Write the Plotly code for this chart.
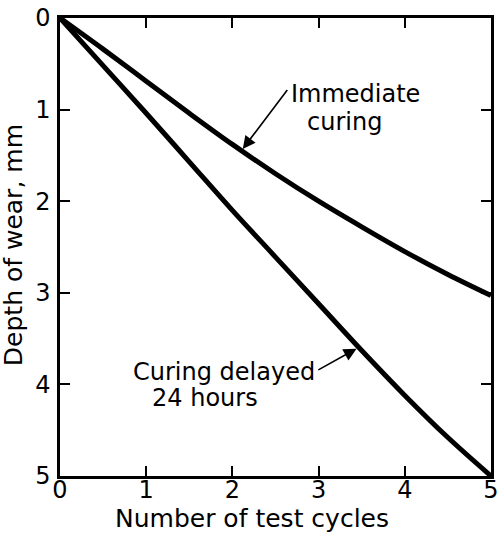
"""Depth of wear vs number of test cycles, two curing regimes."""
import plotly.graph_objects as go

FONT = "DejaVu Sans, sans-serif"

cycles = [0, 0.5, 1, 1.5, 2, 2.5, 3, 3.5, 4, 4.5, 5]
wear_immediate = [0, 0.34, 0.69, 1.04, 1.38, 1.70, 2.00, 2.28, 2.55, 2.80, 3.03]
wear_delayed = [0, 0.52, 1.04, 1.57, 2.10, 2.61, 3.12, 3.63, 4.12, 4.58, 5.0]

x_ticks = [0, 1, 2, 3, 4, 5]
y_ticks = [0, 1, 2, 3, 4, 5]

fig = go.Figure()
for ys in (wear_immediate, wear_delayed):
    fig.add_trace(
        go.Scatter(
            x=cycles,
            y=ys,
            mode="lines",
            line=dict(color="black", width=5, shape="spline"),
            showlegend=False,
            hoverinfo="skip",
            cliponaxis=False,
        )
    )

text_font = dict(family=FONT, size=24, color="black")
notes = [
    dict(text="Immediate", x=3.43, y=0.83),
    dict(text="curing", x=3.30, y=1.13),
    dict(text="Curing delayed", x=1.90, y=3.87),
    dict(text="24 hours", x=1.68, y=4.15),
]
annotations = [
    dict(n, xref="x", yref="y", showarrow=False, font=text_font) for n in notes
]
# arrows: head on the curve, tail near the label
for head, tail in (((2.12, 1.43), (2.65, 0.77)), ((3.44, 3.61), (2.98, 3.85))):
    annotations.append(
        dict(
            text="", x=head[0], y=head[1], ax=tail[0], ay=tail[1],
            xref="x", yref="y", axref="x", ayref="y",
            showarrow=True, arrowhead=2, arrowsize=1.6, arrowwidth=1.6,
            arrowcolor="black", standoff=0,
        )
    )
annotations += [
    dict(text="Number of test cycles", xref="paper", yref="paper",
         x=0.445, y=-0.092, yanchor="middle", showarrow=False,
         font=dict(family=FONT, size=25, color="black")),
    dict(text="Depth of wear, mm", xref="paper", yref="paper",
         x=-0.108, y=0.505, xanchor="center", textangle=-90, showarrow=False,
         font=dict(family=FONT, size=25, color="black")),
]

axis_common = dict(
    showgrid=False,
    zeroline=False,
    showline=True,
    linecolor="black",
    linewidth=2.5,
    mirror="ticks",
    ticks="inside",
    ticklen=10,
    tickwidth=2,
    tickcolor="black",
    ticklabeloverflow="allow",
    tickfont=dict(family=FONT, size=24, color="black"),
)

fig.update_layout(
    width=503,
    height=535,
    margin=dict(l=60, r=4, t=17, b=59),
    paper_bgcolor="white",
    plot_bgcolor="white",
    annotations=annotations,
    xaxis=dict(axis_common, range=[0, 5], tickvals=x_ticks, ticklabelstandoff=-10),
    yaxis=dict(axis_common, range=[5, 0], tickvals=y_ticks, ticklabelstandoff=2),
)

# put the figure at the window's corner, without page margin or scrollbars
page_js = (
    "document.body.style.margin='0';"
    "document.body.style.overflow='hidden';"
    "document.documentElement.style.overflow='hidden';"
)
fig.write_html("out.html", config={"displayModeBar": False}, post_script=page_js)
